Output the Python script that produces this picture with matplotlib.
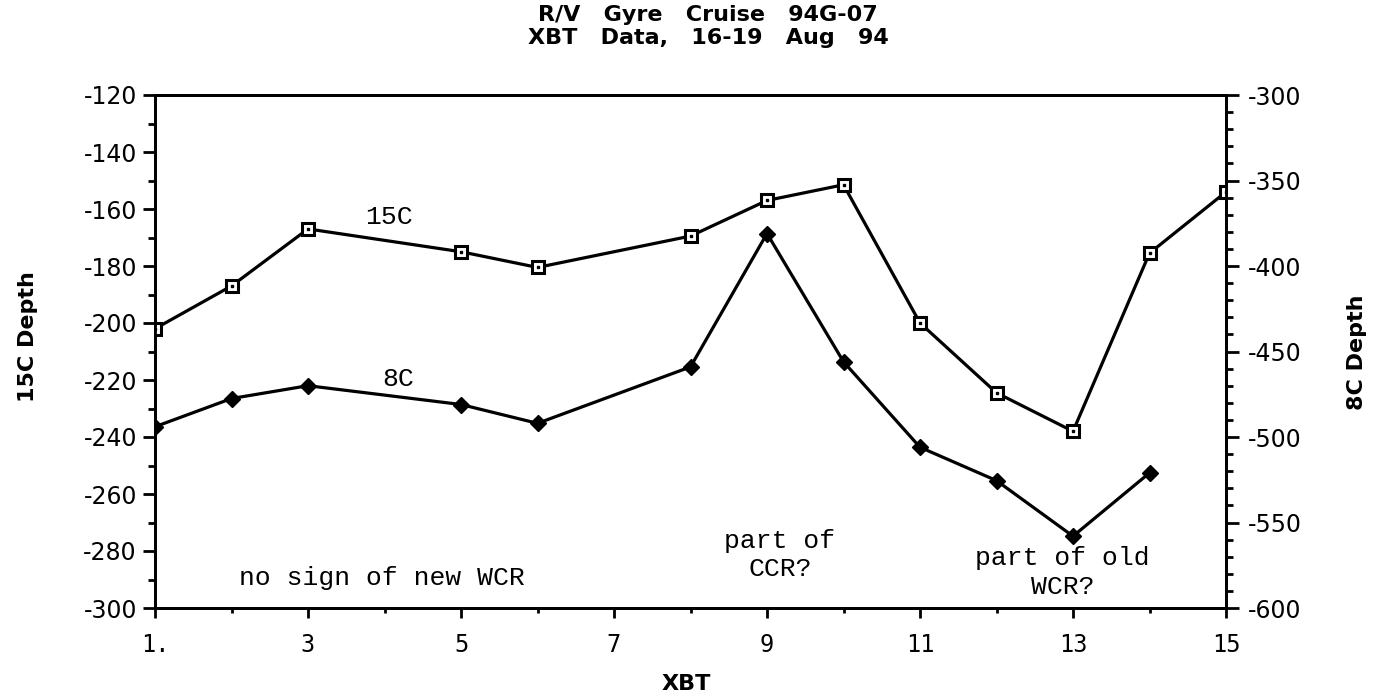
import matplotlib
matplotlib.use("Agg")
import matplotlib.pyplot as plt
from matplotlib.ticker import MultipleLocator, FixedLocator, FixedFormatter

plt.rcParams['axes.unicode_minus'] = False

# ---- data ----
xbt_15c = [1, 2, 3, 5, 6, 8, 9, 10, 11, 12, 13, 14, 15]
depth_15c = [-202, -187, -167, -175, -180.5, -169.5, -157, -151.5, -200, -224.5, -238, -175.5, -154]

xbt_8c = [1, 2, 3, 5, 6, 8, 9, 10, 11, 12, 13, 14]
depth_8c = [-494, -477.5, -470, -481, -492, -459, -381, -456, -506, -525.5, -558, -521]

x_tick_pos = [1, 3, 5, 7, 9, 11, 13, 15]
x_tick_labels = ["1.", "3", "5", "7", "9", "11", "13", "15"]

title_lines = ["R/V   Gyre   Cruise   94G-07", "XBT   Data,   16-19   Aug   94"]

W, H = 1373, 696
fig = plt.figure(figsize=(W / 100, H / 100), dpi=100)
left, right, top, bottom = 155, 1226, 95, 608
ax = fig.add_axes([left / W, 1 - bottom / H, (right - left) / W, (bottom - top) / H])
ax2 = ax.twinx()

mono = "Liberation Mono"

ax.plot(xbt_15c, depth_15c, color="black", lw=2.3, marker="s", ms=8.5,
        mfc="white", mec="black", mew=2.2, zorder=3)
ax.plot(xbt_15c, depth_15c, ls="none", marker="s", ms=2, color="black", zorder=4)
ax2.plot(xbt_8c, depth_8c, color="black", lw=2.3, marker="D", ms=8,
         mfc="black", mec="black", mew=1, zorder=3)

ax.set_xlim(1, 15)
ax.set_ylim(-300, -120)
ax2.set_ylim(-600, -300)

ax.xaxis.set_major_locator(FixedLocator(x_tick_pos))
ax.xaxis.set_major_formatter(FixedFormatter(x_tick_labels))
ax.xaxis.set_minor_locator(MultipleLocator(1))
ax.yaxis.set_major_locator(MultipleLocator(20))
ax.yaxis.set_minor_locator(MultipleLocator(10))
ax2.yaxis.set_major_locator(MultipleLocator(50))
ax2.yaxis.set_minor_locator(MultipleLocator(10))

for a in (ax, ax2):
    for s in a.spines.values():
        s.set_linewidth(2)

ax.tick_params(axis="x", which="major", direction="out", length=7, width=2, pad=11,
               labelsize=17)
ax.tick_params(axis="x", which="minor", direction="out", length=3.5, width=2)
ax.tick_params(axis="y", which="major", direction="out", length=9, width=2, pad=4,
               labelsize=17)
ax.tick_params(axis="y", which="minor", direction="out", length=5, width=2)
ax2.tick_params(axis="y", which="major", direction="out", length=9, width=2, pad=7,
                labelsize=17)
ax2.tick_params(axis="y", which="minor", direction="out", length=5, width=2)
for lbl in ax.get_xticklabels():
    lbl.set_family("DejaVu Sans Mono")

# series labels and notes
ax.text(4.06, -162.9, "15C", fontsize=19, family=mono, ha="center", va="center")
ax.text(4.18, -219.5, "8C", fontsize=19, family=mono, ha="center", va="center")
ax.text(3.97, -289.6, "no sign of new WCR", fontsize=19, family=mono, ha="center", va="center")
ax.text(9.17, -281.5, "part of\nCCR?", fontsize=19, family=mono, ha="center", va="center",
        linespacing=1.2)
ax.text(12.86, -287.5, "part of old\nWCR?", fontsize=19, family=mono, ha="center", va="center",
        linespacing=1.25)

fig.text(28 / W, 1 - 337 / H, "15C Depth", rotation=90, fontsize=16, fontweight="bold",
         ha="center", va="center")
fig.text(1357 / W, 1 - 352 / H, "8C Depth", rotation=90, fontsize=16, fontweight="bold",
         ha="center", va="center")
fig.text(686 / W, 1 - 684 / H, "XBT", fontsize=16, fontweight="bold", ha="center", va="center")

fig.text(708 / W, 1 - 15 / H, title_lines[0], fontsize=16, fontweight="bold", ha="center", va="center")
fig.text(708 / W, 1 - 38 / H, title_lines[1], fontsize=16, fontweight="bold", ha="center", va="center")

fig.savefig("out.png", dpi=100)
